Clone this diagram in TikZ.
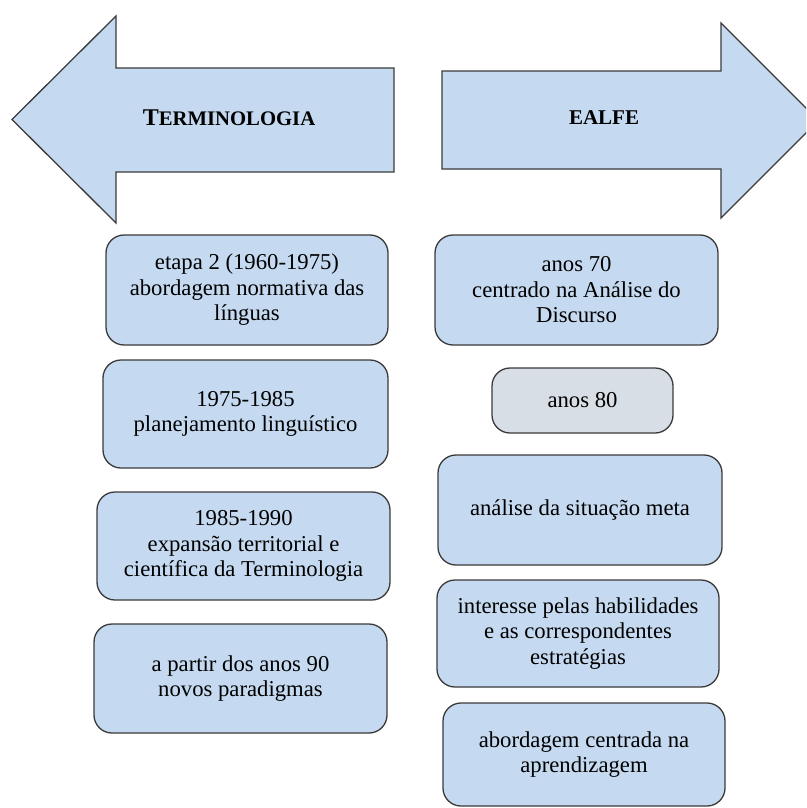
\documentclass[tikz,border=0pt]{standalone}
\usepackage{fontspec}
\setmainfont{Liberation Serif}
\definecolor{boxblue}{HTML}{C5DAF0}
\definecolor{boxgrey}{HTML}{D8DEE6}
\definecolor{edge}{HTML}{3A3A3A}
\begin{document}
\begin{tikzpicture}[x=1pt,y=-1pt,
  shape outline/.style={draw=edge,line width=1.3pt,fill=boxblue,line join=miter},
  card/.style={draw=edge,line width=1.3pt,fill=boxblue,rounded corners=18pt,
    align=center,inner sep=0pt,
    font=\fontsize{22.7}{25.5}\selectfont},
  greycard/.style={card,fill=boxgrey},
  title/.style={font=\bfseries,inner sep=0pt}]
\useasboundingbox (0,0) rectangle (806,808);
\clip (0,0) rectangle (806,808);
% left arrow
\draw[shape outline] (12,119.5) -- (116,16) -- (116,68) -- (394,68) -- (394,172)
  -- (116,172) -- (116,223) -- cycle;
\node[title] (terminologia) at (229,118)
  {\fontsize{24}{26}\selectfont T\fontsize{20.7}{26}\selectfont ERMINOLOGIA};
% right arrow
\draw[shape outline] (442,71) -- (721,71) -- (721,23) -- (818.5,120.5) -- (721,218)
  -- (721,169) -- (442,169) -- cycle;
\node[title] (ealfe) at (604,118) {\fontsize{21}{26}\selectfont EALFE};
% left column
\node[card,minimum width=282pt,minimum height=110pt] (l1) at (247,290)
  {etapa 2 (1960-1975)\\abordagem normativa das\\línguas};
\node[card,minimum width=285pt,minimum height=108pt] (l2) at (245.5,414)
  {1975-1985\\planejamento linguístico};
\node[card,minimum width=293pt,minimum height=108pt] (l3) at (243.5,546)
  {1985-1990\\expansão territorial e\\científica da Terminologia};
\node[card,minimum width=293pt,minimum height=109pt] (l4) at (240.5,678.5)
  {a partir dos anos 90\\novos paradigmas};
% right column
\node[card,minimum width=283pt,minimum height=110pt] (r1) at (576.5,290)
  {anos 70\\centrado na Análise do\\Discurso};
\node[greycard,minimum width=181pt,minimum height=65pt] (r2) at (582.5,400.5)
  {anos 80};
\node[card,minimum width=284pt,minimum height=110pt] (r3) at (580,510)
  {análise da situação meta};
\node[card,minimum width=282pt,minimum height=107pt] (r4) at (578,633.5)
  {interesse pelas habilidades\\e as correspondentes\\estratégias};
\node[card,minimum width=282pt,minimum height=103pt] (r5) at (584,754.5)
  {abordagem centrada na\\aprendizagem};
\end{tikzpicture}
\end{document}
